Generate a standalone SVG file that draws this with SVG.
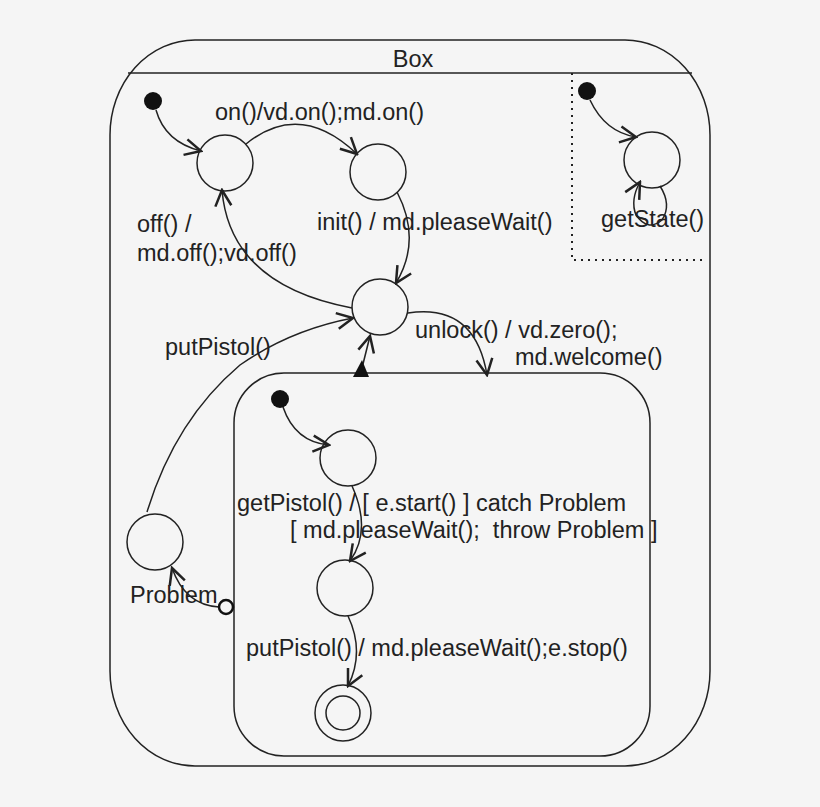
<svg xmlns="http://www.w3.org/2000/svg" width="820" height="807" viewBox="0 0 820 807">
<style>
.s{fill:none;stroke:#222;stroke-width:1.5}
.st{fill:none;stroke:#222;stroke-width:1.5}
.c{fill:none;stroke:#222;stroke-width:1.5}
text{font-family:"Liberation Sans",Arial,sans-serif;font-size:23.5px;fill:#222}
</style>
<defs>
<marker id="a" viewBox="0 0 20 20" refX="18" refY="10" markerWidth="20" markerHeight="20" markerUnits="userSpaceOnUse" orient="auto">
<polyline points="2,2 18,10 2,18" fill="none" stroke="#222" stroke-width="2.5"/>
</marker>
</defs>
<rect width="820" height="807" fill="#f5f5f5"/>
<g id="box">
<rect x="110" y="40" width="600" height="726" rx="85" ry="95" class="s"/>
<line x1="128" y1="73" x2="692" y2="73" class="s"/>
<text x="413" y="67" text-anchor="middle">Box</text>
<path d="M572,73 V260 H705" fill="none" stroke="#222" stroke-width="2" stroke-dasharray="2,5"/>
</g>
<g id="inner"><rect x="234" y="373" width="416" height="383" rx="50" class="s"/></g>
<g id="s1"><circle cx="225" cy="163" r="28" class="st"/></g>
<g id="s2"><circle cx="378" cy="172" r="28" class="st"/></g>
<g id="s3"><circle cx="380" cy="307" r="28" class="st"/></g>
<g id="sg"><circle cx="652" cy="160" r="28" class="st"/></g>
<g id="sa"><circle cx="348" cy="458" r="28" class="st"/></g>
<g id="sb"><circle cx="345" cy="588" r="28" class="st"/></g>
<g id="sf"><circle cx="343" cy="713" r="28" class="st"/><circle cx="343" cy="713" r="17" class="st"/></g>
<g id="sp"><circle cx="155" cy="542" r="28" class="st"/></g>
<g id="i1"><circle cx="153" cy="101" r="9" fill="#111"/></g>
<g id="i2"><circle cx="587" cy="91" r="9" fill="#111"/></g>
<g id="i3"><circle cx="280" cy="399" r="9" fill="#111"/></g>
<g id="connectors">
<path d="M156,110 Q165,142 201,151" class="c" marker-end="url(#a)"/>
<path d="M246,144 Q300,100 357,154" class="c" marker-end="url(#a)"/>
<path d="M397,192 Q422,240 396,283" class="c" marker-end="url(#a)"/>
<path d="M352,308 Q230,285 222,190" class="c" marker-end="url(#a)"/>
<path d="M408,313 Q475,303 487,375" class="c" marker-end="url(#a)"/>
<path d="M147,512 Q175,420 240,365 Q290,330 353,318" class="c" marker-end="url(#a)"/>
<path d="M361,372 L370,336" class="c" marker-end="url(#a)"/>
<polygon points="353,377 369,377 362,360" fill="#111"/>
<path d="M219,607 Q185,605 172,568" class="c" marker-end="url(#a)"/>
<circle cx="226" cy="607" r="7" fill="#f5f5f5" stroke="#111" stroke-width="2.5"/>
<path d="M590,100 Q605,132 636,137" class="c" marker-end="url(#a)"/>
<path d="M660,186 Q672,205 662,220 Q648,232 636,215 Q630,200 640,182" class="c" marker-end="url(#a)"/>
<path d="M283,407 Q295,442 329,445" class="c" marker-end="url(#a)"/>
<path d="M352,486 Q372,530 350,561" class="c" marker-end="url(#a)"/>
<path d="M348,616 Q365,652 348,686" class="c" marker-end="url(#a)"/>
</g>
<g id="labels">
<text x="215" y="120">on()/vd.on();md.on()</text>
<text x="317" y="230">init() / md.pleaseWait()</text>
<text x="137" y="232">off() /</text>
<text x="137" y="261">md.off();vd.off()</text>
<text x="415" y="338">unlock() / vd.zero();</text>
<text x="515" y="365">md.welcome()</text>
<text x="165" y="355">putPistol()</text>
<text x="601" y="227">getState()</text>
<text x="237" y="511">getPistol() / [ e.start() ] catch Problem</text>
<text x="290" y="538" xml:space="preserve">[ md.pleaseWait();  throw Problem ]</text>
<text x="130" y="603">Problem</text>
<text x="246" y="656">putPistol() / md.pleaseWait();e.stop()</text>
</g>
</svg>
